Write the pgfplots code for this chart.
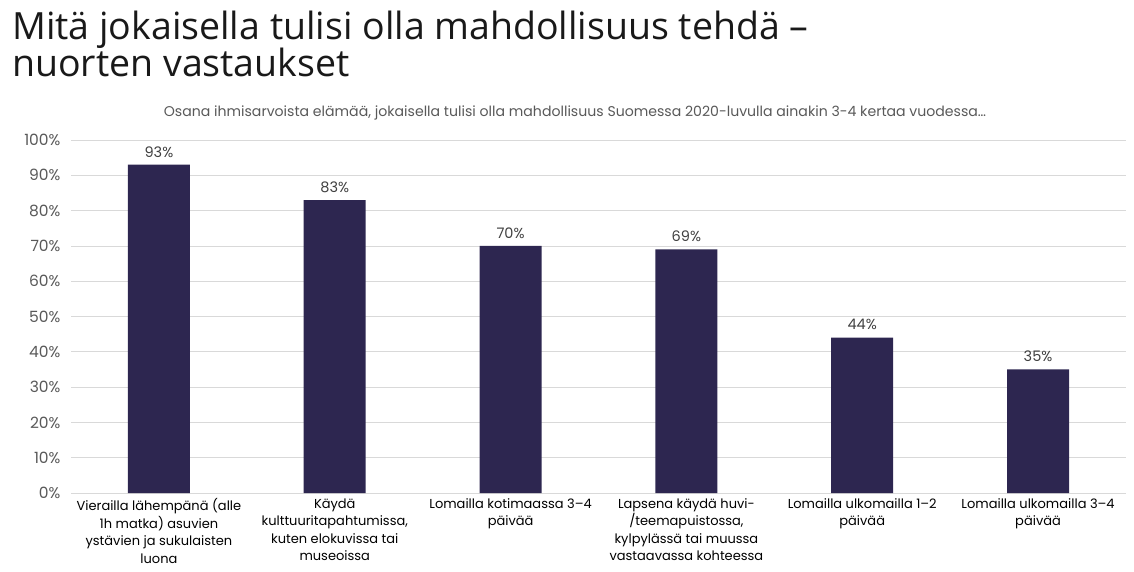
\documentclass[border=0pt]{standalone}
\usepackage{fontspec}
\setmainfont{Poppins}
\newfontfamily\titlefont{Open Sans}
\usepackage{pgfplots}
\pgfplotsset{compat=1.18}

\definecolor{barcol}{HTML}{2D2650}
\definecolor{gridcol}{HTML}{D9D9D9}
\definecolor{labcol}{HTML}{595959}
\definecolor{valcol}{HTML}{404040}

\begin{document}
\begin{tikzpicture}[x=1pt,y=1pt]
\useasboundingbox (0,0) rectangle (1134,571);
\node[anchor=base west, inner sep=0, text=black!90, font=\titlefont\fontsize{37.5}{40}\selectfont] at (12,531) {Mitä jokaisella tulisi olla mahdollisuus tehdä –};
\node[anchor=base west, inner sep=0, text=black!90, font=\titlefont\fontsize{37.5}{40}\selectfont] at (12,494) {nuorten vastaukset};
\node[anchor=base, inner sep=0, text=labcol, font=\fontsize{14.1}{16}\selectfont] at (575,454) {Osana ihmisarvoista elämää, jokaisella tulisi olla mahdollisuus Suomessa 2020-luvulla ainakin 3-4 kertaa vuodessa…};
\begin{axis}[
    at={(71pt,78pt)}, anchor=south west,
    scale only axis,
    width=1055pt, height=353pt,
    ybar, bar width=62pt,
    xmin=-0.5, xmax=5.5,
    ymin=0, ymax=100,
    ytick={0,10,...,100},
    yticklabel={\pgfmathprintnumber{\tick}\%},
    /pgf/number format/assume math mode=true,
    axis lines=left,
    axis line style={draw=none},
    major tick length=0pt,
    ymajorgrids,
    grid style={gridcol, line width=0.8pt},
    yticklabel style={text=labcol, font=\fontsize{15.5}{17}\selectfont, xshift=-7pt},
    xtick={0,...,5},
    xticklabels={
        {Vierailla lähempänä (alle\\1h matka) asuvien\\ystävien ja sukulaisten\\luona},
        {Käydä\\kulttuuritapahtumissa,\\kuten elokuvissa tai\\museoissa},
        {Lomailla kotimaassa 3–4\\päivää},
        {Lapsena käydä huvi-\\/teemapuistossa,\\kylpylässä tai muussa\\vastaavassa kohteessa},
        {Lomailla ulkomailla 1–2\\päivää},
        {Lomailla ulkomailla 3–4\\päivää}},
    xticklabel style={align=center, text=black, font=\fontsize{13}{17.5}\selectfont, anchor=north, yshift=-2pt},
    nodes near coords={\pgfmathprintnumber{\pgfplotspointmeta}\%},
    nodes near coords style={text=valcol, font=\fontsize{14.5}{16}\selectfont, yshift=4pt},
    clip=false,
]
\addplot[fill=barcol, draw=none] coordinates {(0,93) (1,83) (2,70) (3,69) (4,44) (5,35)};
\end{axis}
\end{tikzpicture}
\end{document}
